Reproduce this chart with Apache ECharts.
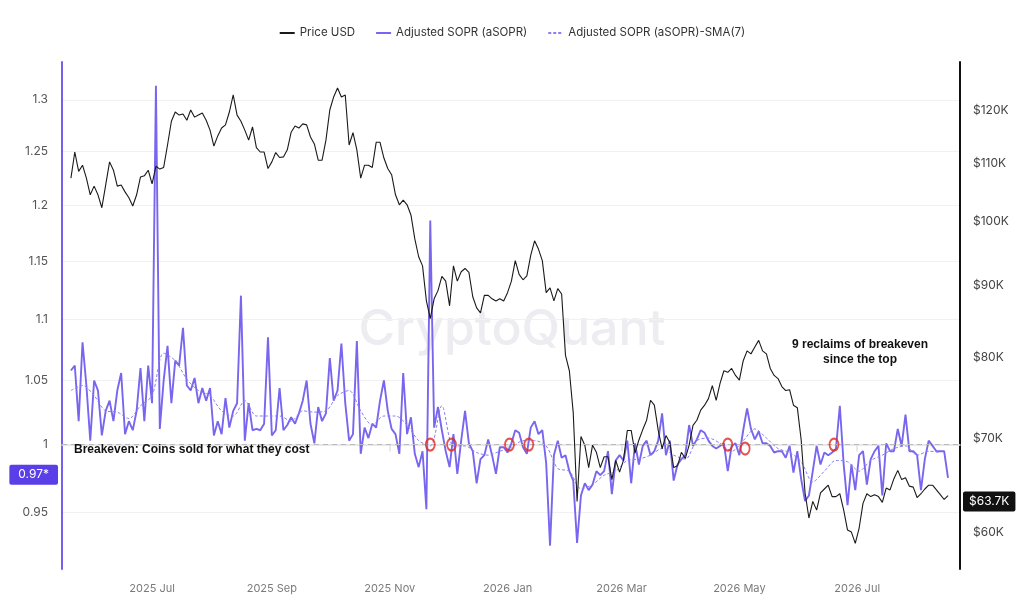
<!DOCTYPE html>
<html><head><meta charset="utf-8">
<script src="https://cdn.jsdelivr.net/npm/echarts@6/dist/echarts.min.js"></script>
<style>html,body{margin:0;padding:0;background:#fff}#c{width:1024px;height:606px}</style>
</head><body><div id="c"></div>
<script>
// ---------- data ----------
const startDate = '2025-05-20';
const stepDays = 2;
const smaStartDate = '2025-05-20';
const smaStepDays = 6;

// Price USD (thousands), every 2 days
const priceK = [
107.3,112.0,108.5,109.6,107.3,104.4,105.9,104.4,102.2,106.1,
110.2,108.7,105.9,106.1,104.9,103.9,102.5,104.4,107.5,107.7,
108.7,106.3,109.4,108.9,109.2,113.3,117.8,119.6,119.0,119.2,
118.0,120.0,118.6,119.0,119.4,118.0,116.1,113.1,115.0,116.5,
117.1,119.6,123.0,119.0,117.8,116.1,114.2,116.7,112.8,112.0,
112.0,109.0,110.2,111.9,111.0,111.1,112.4,115.7,116.9,116.5,
117.3,117.1,114.8,113.5,110.5,110.5,114.2,120.0,122.6,124.4,
122.6,123.0,113.3,115.6,112.4,107.3,109.6,109.6,109.2,113.8,
113.8,110.9,109.0,107.9,104.4,102.7,103.5,102.7,101.0,97.1,
94.3,92.9,87.7,85.2,88.0,89.2,91.3,90.6,87.0,92.9,
90.6,92.0,92.5,91.9,88.3,86.7,86.0,88.5,88.5,88.0,
87.7,88.0,87.7,88.9,90.6,93.7,91.6,90.8,91.4,94.5,
96.8,95.5,93.7,88.9,89.6,87.7,89.5,88.7,80.2,78.2,
73.0,63.1,70.2,69.2,66.7,69.2,68.4,66.7,67.9,67.9,
65.4,67.5,66.2,67.5,70.9,70.9,68.3,69.8,71.0,72.1,
74.5,73.9,70.9,68.8,70.3,69.5,66.7,66.9,68.4,67.7,
69.2,71.5,72.1,73.3,73.9,74.7,76.3,74.5,76.6,78.2,
78.0,78.5,77.6,77.0,79.5,80.8,80.4,81.3,82.2,80.8,
80.4,78.5,77.6,77.2,76.2,75.7,75.8,73.9,73.6,69.8,
64.0,61.4,63.1,62.2,64.0,64.4,64.8,63.6,63.6,63.9,
62.2,60.2,60.0,58.9,60.4,62.9,63.9,63.6,63.8,63.6,
63.0,64.5,64.3,65.5,66.4,65.4,65.6,64.7,64.6,63.5,
63.9,64.4,64.8,64.8,64.3,63.8,63.3,63.7
];

// Adjusted SOPR (aSOPR), every 2 days
const asopr = [
1.058,1.062,1.018,1.081,1.046,1.003,1.050,1.042,1.007,1.026,
1.034,1.018,1.042,1.056,1.008,1.018,1.011,1.026,1.060,1.018,
1.062,1.032,1.314,1.012,1.050,1.078,1.032,1.066,1.062,1.093,
1.046,1.042,1.052,1.032,1.044,1.034,1.044,1.007,1.018,1.008,
1.036,1.013,1.026,1.032,1.120,1.003,1.032,1.011,1.012,1.011,
1.016,1.085,1.007,1.011,1.044,1.011,1.015,1.021,1.016,1.024,
1.034,1.050,1.016,1.001,1.029,1.018,1.024,1.068,1.034,1.042,
1.080,1.032,1.003,1.008,1.082,0.993,1.013,1.005,1.016,1.013,
1.034,1.050,1.026,1.012,1.008,0.993,1.056,1.008,1.021,0.993,
0.983,0.995,0.952,1.186,1.013,1.029,1.011,0.995,0.983,1.008,
0.978,1.003,1.026,1.001,0.995,0.971,0.989,0.992,1.004,0.992,
0.978,0.998,0.998,0.994,1.001,1.011,1.009,0.998,0.993,1.013,
1.018,1.008,1.011,0.986,0.926,0.992,1.003,0.990,0.992,0.980,
0.973,0.928,0.962,0.971,0.966,0.970,0.980,0.977,0.980,0.995,
0.963,0.988,0.992,0.988,1.003,0.971,1.001,0.985,0.999,1.003,
0.992,0.995,1.003,1.024,0.992,1.003,0.973,0.985,0.989,0.992,
1.015,0.999,1.004,1.011,1.009,1.003,0.999,0.997,0.999,1.001,
0.980,0.999,1.001,0.992,1.011,1.028,1.012,1.004,1.010,1.001,
1.001,0.999,0.994,0.995,0.995,0.990,0.999,0.979,0.995,0.974,
0.958,0.962,0.980,0.999,0.985,0.994,0.992,0.994,0.997,1.030,
0.985,0.955,0.985,0.966,0.992,0.995,0.970,0.989,0.995,0.999,
0.962,1.001,0.995,0.995,1.012,0.999,1.023,0.995,0.995,0.992,
0.966,0.989,1.003,0.999,0.995,0.995,0.995,0.975
];

// Adjusted SOPR (aSOPR)-SMA(7), every 6 days
const asoprSma7 = [
1.042,1.046,1.038,1.026,1.025,1.020,1.030,1.038,1.072,1.066,
1.051,1.042,1.038,1.026,1.022,1.034,1.022,1.022,1.022,1.018,
1.026,1.025,1.026,1.038,1.042,1.026,1.015,1.022,1.022,1.015,
1.003,0.999,1.030,0.999,0.999,0.994,0.992,0.995,0.998,1.003,
1.003,0.999,0.982,0.980,0.967,0.970,0.977,0.980,0.988,0.989,
0.992,0.997,0.992,0.989,1.003,1.005,1.001,0.995,1.003,1.012,
1.005,0.997,0.994,0.987,0.972,0.980,0.988,0.987,0.980,0.988,
0.992,0.997,0.999,0.992,0.995,0.994
];

// breakeven reclaims marked with red circles
const reclaimDates = ['2025-11-22','2025-12-03','2026-01-02','2026-01-12','2026-04-25','2026-05-04','2026-06-19'];
const reclaimValues = [1, 1, 1, 1, 1, 0.997, 1];

const breakevenLevel = 1;
const leftTicks = [0.95, 1, 1.05, 1.1, 1.15, 1.2, 1.25, 1.3];
const leftRange = [0.9097, 1.3379];
const rightTicksK = [60, 70, 80, 90, 100, 110, 120];
const rightRangeK = [56.47, 129.84];
const monthTickDates = ['2025-07-01','2025-09-01','2025-11-01','2026-01-01','2026-03-01','2026-05-01','2026-07-01'];
const monthTickLabels = ['2025 Jul','2025 Sep','2025 Nov','2026 Jan','2026 Mar','2026 May','2026 Jul'];
const xRange = ['2025-05-15T09:00:00Z', '2026-08-23T05:00:00Z'];

// ---------- build ----------
const DAY = 86400000;
const ts = s => new Date(s.length <= 10 ? s + 'T00:00:00Z' : s).getTime();
const L = Math.log10;
const t0 = ts(startDate), s0 = ts(smaStartDate);
const priceData = priceK.map((v, i) => [t0 + i * stepDays * DAY, L(v * 1000)]);
const asoprData = asopr.map((v, i) => [t0 + i * stepDays * DAY, L(v)]);
const smaData = asoprSma7.map((v, i) => [s0 + i * smaStepDays * DAY, L(v)]);
const reclaimData = reclaimDates.map((d, i) => [ts(d), L(reclaimValues[i])]);
const monthTicks = monthTickDates.map(ts);
const nearest = (arr, v) => arr.reduce((b, t) => Math.abs(t - v) < Math.abs(b - v) ? t : b, arr[0]);
const lastPrice = priceK[priceK.length - 1];
const lastSopr = asopr[asopr.length - 1];

const purple = '#7866ef';
const chart = echarts.init(document.getElementById('c'), null, {renderer: 'canvas'});
chart.setOption({
  animation: false,
  backgroundColor: '#fff',
  textStyle: {fontFamily: 'Inter, "Noto Sans", sans-serif'},
  legend: {
    top: 22, left: 'center', itemGap: 20, itemWidth: 15, itemHeight: 10,
    itemStyle: {opacity: 0},
    textStyle: {fontSize: 11.5, color: '#333'},
    data: ['Price USD', 'Adjusted SOPR (aSOPR)', 'Adjusted SOPR (aSOPR)-SMA(7)']
  },
  grid: {left: 62, right: 64, top: 62, bottom: 37, containLabel: false},
  xAxis: {
    type: 'value', min: ts(xRange[0]), max: ts(xRange[1]),
    axisLine: {show: true, lineStyle: {color: '#e2e2e2', width: 1.5}},
    axisTick: {show: true, customValues: monthTicks, length: 7, lineStyle: {color: '#e2e2e2', width: 1.5}},
    axisLabel: {customValues: monthTicks, color: '#7a7a7a', fontSize: 11, margin: 14,
      formatter: v => monthTickLabels[monthTicks.indexOf(nearest(monthTicks, v))]},
    splitLine: {show: false}
  },
  yAxis: [{
    type: 'value', position: 'left', min: L(leftRange[0]), max: L(leftRange[1]),
    axisLine: {show: true, lineStyle: {color: '#7462ee', width: 2}},
    axisTick: {show: false, customValues: leftTicks.map(L)},
    axisLabel: {customValues: leftTicks.map(L), color: '#555', fontSize: 12, margin: 14,
      formatter: v => String(nearest(leftTicks, Math.pow(10, v)))},
    splitLine: {show: true, lineStyle: {color: '#f1f1f1', width: 1}}
  }, {
    type: 'value', position: 'right', min: L(rightRangeK[0] * 1000), max: L(rightRangeK[1] * 1000),
    axisLine: {show: true, lineStyle: {color: '#111', width: 2}},
    axisTick: {show: false, customValues: rightTicksK.map(k => L(k * 1000))},
    axisLabel: {customValues: rightTicksK.map(k => L(k * 1000)), color: '#444', fontSize: 12, margin: 13,
      formatter: v => '$' + nearest(rightTicksK, Math.pow(10, v) / 1000) + 'K'},
    splitLine: {show: false}
  }],
  graphic: [{
    type: 'text', left: 'center', top: 305, z: 0, silent: true,
    style: {text: 'CryptoQuant', font: '500 50px Inter, sans-serif', fill: '#ececf1'}
  }, {
    type: 'text', x: 860, y: 352, z: 10,
    style: {text: '9 reclaims of breakeven\nsince the top', font: 'bold 12px "Liberation Sans", Arial, sans-serif',
      fill: '#111', align: 'center', verticalAlign: 'middle', lineHeight: 15}
  }],
  series: [{
    name: 'Adjusted SOPR (aSOPR)', type: 'line', yAxisIndex: 0, data: asoprData,
    symbol: 'none', z: 3, color: purple,
    lineStyle: {color: purple, width: 1.9},
    markLine: {
      silent: true, symbol: ['none', 'none'],
      data: [{
        yAxis: L(breakevenLevel),
        lineStyle: {color: '#bbb', type: [5, 4], width: 1},
        label: {show: true, position: 'insideStartBottom', distance: [12, -1],
          formatter: 'Breakeven: Coins sold for what they cost',
          fontFamily: '"Liberation Sans", Arial, sans-serif', fontWeight: 'bold', fontSize: 12, color: '#111'}
      }, {
        yAxis: L(lastSopr),
        lineStyle: {color: 'rgba(0,0,0,0)', width: 0},
        label: {show: true, position: 'start', distance: 4,
          formatter: (Math.floor(lastSopr * 100) / 100).toFixed(2) + '*',
          backgroundColor: '#5a3fe8', color: '#fff', fontSize: 12, padding: [4, 9], borderRadius: 2}
      }]
    }
  }, {
    name: 'Adjusted SOPR (aSOPR)-SMA(7)', type: 'line', yAxisIndex: 0, data: smaData,
    symbol: 'none', z: 3, color: '#8c7ef2', smooth: 0.3,
    lineStyle: {color: '#8c7ef2', width: 1, type: [3, 2]}
  }, {
    name: 'Price USD', type: 'line', yAxisIndex: 1, data: priceData,
    symbol: 'none', z: 4, color: '#333',
    lineStyle: {color: '#1a1a1a', width: 1.1},
    markLine: {
      silent: true, symbol: ['none', 'none'],
      data: [{
        yAxis: L(lastPrice * 1000),
        lineStyle: {color: 'rgba(0,0,0,0)', width: 0},
        label: {show: true, position: 'end', distance: 3,
          formatter: '$' + lastPrice.toFixed(1) + 'K',
          backgroundColor: '#111', color: '#fff', fontSize: 12, padding: [4, 6], borderRadius: 2}
      }]
    }
  }, {
    name: 'reclaims', type: 'scatter', yAxisIndex: 0, data: reclaimData, z: 6,
    symbol: 'circle', symbolSize: [9, 12],
    itemStyle: {color: 'rgba(255,255,255,0)', borderColor: '#e5281e', borderWidth: 2}
  }]
});
</script></body></html>
